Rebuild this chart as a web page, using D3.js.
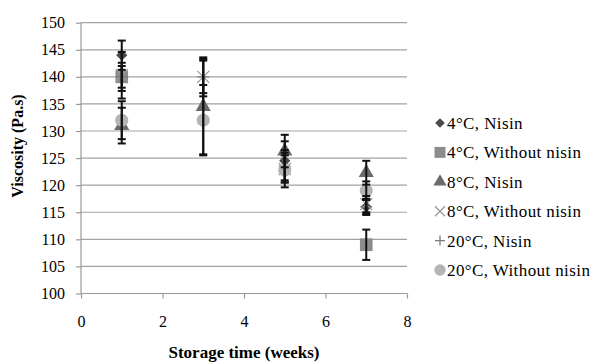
<!DOCTYPE html>
<html>
<head>
<meta charset="utf-8">
<script src="https://cdn.jsdelivr.net/npm/d3@7"></script>
<style>
  body { margin: 0; background: #fff; }
  svg text { font-family: "Liberation Serif", "Times New Roman", serif; fill: #000; }
</style>
</head>
<body>
<svg id="chart"></svg>
<script>
    /* chart data */
    let weeks = [1, 3, 5, 7];
    let seriesNames = ["4°C, Nisin", "4°C, Without nisin", "8°C, Nisin", "8°C, Without nisin", "20°C, Nisin", "20°C, Without nisin"];
    let nisin4 = [144, null, 124.5, 116];
    let nisin4Err = [2.7, null, 3.6, 1.3];
    let without4 = [140, null, null, 109];
    let without4Err = [2.6, null, null, 2.8];
    let nisin8 = [131, 134.5, 126.3, 122.3];
    let nisin8Err = [3.3, 8.8, 3, 2.2];
    let without8 = [140.3, 140, 123, 116.5];
    let without8Err = [4.3, 3.6, 2.5, 1.5];
    let nisin20 = [140, 140, 123.5, 116];
    let nisin20Err = [2, 3, 3, 1.5];
    let without20 = [132, 132, 122.8, 119];
    let without20Err = [3.5, 6.5, 3.2, 1.7];
    let xTicks = [0, 2, 4, 6, 8];
    let yTicks = [100, 105, 110, 115, 120, 125, 130, 135, 140, 145, 150];

    let width = 600;
    let height = 364;
    let padLeft = 81, padRight = 407, padTop = 22.7, padBottom = 293.5;

    const svg = d3.select("#chart").attr("width", width).attr("height", height);

    let xScale = d3.scaleLinear().domain([0, 8]).range([padLeft, padRight]);
    let yScale = d3.scaleLinear().domain([100, 150]).range([padBottom, padTop]);

    // marker look for each series
    let styles = [
        {vals: nisin4, err: nisin4Err, type: "diamond", size: 62, fill: "#4a4a4a"},
        {vals: without4, err: without4Err, type: d3.symbolSquare, size: 160, fill: "#8c8c8c"},
        {vals: nisin8, err: nisin8Err, type: d3.symbolTriangle, size: 100, fill: "#6b6b6b"},
        {vals: without8, err: without8Err, type: "x", size: 6, stroke: "#9a9a9a"},
        {vals: nisin20, err: nisin20Err, type: "plus", size: 6, stroke: "#7a7a7a"},
        {vals: without20, err: without20Err, type: d3.symbolCircle, size: 135, fill: "#b4b4b4"}
    ];

    /* gridlines */
    svg.append("g").selectAll("line").data(yTicks).enter().append("line")
        .attr("x1", padLeft).attr("x2", padRight)
        .attr("y1", d => yScale(d)).attr("y2", d => yScale(d))
        .attr("stroke", "#a3a3a3").attr("stroke-width", 1.2);

    /* axes */
    let yAxis = d3.axisLeft(yScale).tickValues(yTicks).tickSize(5).tickPadding(11);
    let gy = svg.append("g").attr("transform", "translate(" + padLeft + ",0)").call(yAxis);
    let xAxis = d3.axisBottom(xScale).tickValues(xTicks).tickSize(5).tickPadding(17);
    let gx = svg.append("g").attr("transform", "translate(0," + padBottom + ")").call(xAxis);
    [gx, gy].forEach(g => {
        g.selectAll("path,line").attr("stroke", "#9a9a9a").attr("stroke-width", 1.2);
        g.selectAll("text").attr("font-size", 16).attr("font-family", "Liberation Serif");
    });
    gx.select(".domain").attr("d", "M" + padLeft + ",0H" + padRight);
    gy.select(".domain").attr("d", "M0," + padBottom + "V" + padTop);

    /* axis titles */
    svg.append("text").attr("x", 244).attr("y", 358).attr("text-anchor", "middle")
        .attr("font-size", 17).attr("font-weight", "bold").text("Storage time (weeks)");
    svg.append("text").attr("transform", "translate(23,146) rotate(-90)").attr("text-anchor", "middle")
        .attr("font-size", 16).attr("font-weight", "bold").text("Viscosity (Pa.s)");

    const drawMarker = (g, s, x, y) => {
        if (s.type === "x" || s.type === "plus") {
            let r = s.size;
            let p = s.type === "x"
                ? "M" + (x - r) + "," + (y - r) + "L" + (x + r) + "," + (y + r) + "M" + (x - r) + "," + (y + r) + "L" + (x + r) + "," + (y - r)
                : "M" + (x - r) + "," + y + "H" + (x + r) + "M" + x + "," + (y - r) + "V" + (y + r);
            g.append("path").attr("d", p).attr("stroke", s.stroke).attr("stroke-width", 1.3).attr("fill", "none");
        } else if (s.type === "diamond") {
            g.append("path").attr("d", d3.symbol().type(d3.symbolSquare).size(s.size)())
                .attr("transform", "translate(" + x + "," + y + ") rotate(45)").attr("fill", s.fill);
        } else {
            g.append("path").attr("d", d3.symbol().type(s.type).size(s.size)())
                .attr("transform", "translate(" + x + "," + y + ")").attr("fill", s.fill);
        }
    };

    /* markers */
    let markG = svg.append("g");
    styles.forEach(s => {
        s.vals.forEach((v, i) => {
            if (v === null) return;
            drawMarker(markG, s, xScale(weeks[i]), yScale(v));
        });
    });

    /* error bars on top */
    let errG = svg.append("g").attr("stroke", "#111").attr("stroke-width", 2);
    styles.forEach(s => {
        s.vals.forEach((v, i) => {
            if (v === null) return;
            let x = xScale(weeks[i]);
            let y1 = yScale(v + s.err[i]), y2 = yScale(v - s.err[i]);
            errG.append("line").attr("x1", x).attr("x2", x).attr("y1", y1).attr("y2", y2);
            errG.append("line").attr("x1", x - 4).attr("x2", x + 4).attr("y1", y1).attr("y2", y1);
            errG.append("line").attr("x1", x - 4).attr("x2", x + 4).attr("y1", y2).attr("y2", y2);
        });
    });

    /* legend */
    let legend = svg.append("g");
    styles.forEach((s, i) => {
        let ly = 123 + i * 29.4;
        let ls = Object.assign({}, s);
        if (s.type === "x" || s.type === "plus") ls.size = 5;
        else ls.size = s.size * 0.75;
        drawMarker(legend, ls, 440, ly);
        legend.append("text").attr("x", 447).attr("y", ly + 6)
            .attr("font-size", 17).attr("letter-spacing", 0.4).text(seriesNames[i]);
    });
</script>
</body>
</html>
